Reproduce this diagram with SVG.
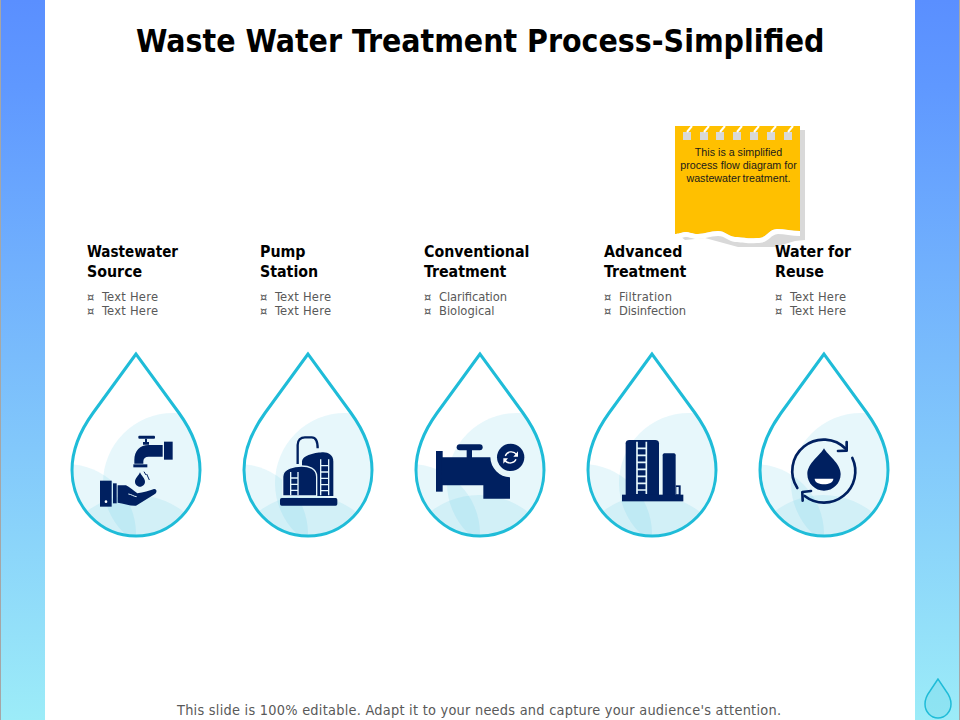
<svg xmlns="http://www.w3.org/2000/svg" width="960" height="720" viewBox="0 0 960 720">
<style>
text{font-family:"DejaVu Sans",sans-serif;font-stretch:condensed}
.title{font-size:31.7px;font-weight:bold;fill:#000}
.head{font-size:15.8px;font-weight:bold;fill:#000}
.item{font-size:12.8px;fill:#595959}
.foot{font-size:14.4px;fill:#595959}
text.note{font-family:"Liberation Sans",Arial,sans-serif;font-stretch:normal;font-size:10.7px;fill:#1a1a1a;text-anchor:middle}
.ic{fill:#002060}
.wh{fill:#fff}
.line{fill:none;stroke:#002060}
.dropline{fill:none;stroke:#1fbcd8;stroke-width:3}
.tint{fill:#49c3e0;fill-opacity:.13}
</style>
<defs>
<linearGradient id="bar" x1="0" y1="0" x2="0" y2="1">
<stop offset="0" stop-color="#5a8fff"/><stop offset=".12" stop-color="#5f98ff"/><stop offset="1" stop-color="#9cecf8"/>
</linearGradient>
<path id="dropShape" d="M0 -118L-43 -59C-56 -41 -64 -22 -64 -2C-64 34 -36 64 0 64C36 64 64 34 64 -2C64 -22 56 -41 43 -59Z"/>
<clipPath id="dropClip"><use href="#dropShape"/></clipPath>
<g id="drop">
<g clip-path="url(#dropClip)">
<circle class="tint" cx="37" cy="11" r="70"/>
<circle class="tint" cx="-70" cy="62" r="70"/>
<circle class="tint" cx="-1" cy="102" r="79"/>
</g>
<use href="#dropShape" class="dropline"/>
</g>
</defs>
<rect width="960" height="720" fill="#fff"/>
<rect id="barL" x="0" y="0" width="45" height="720" fill="url(#bar)"/>
<rect id="barR" x="915" y="0" width="45" height="720" fill="url(#bar)"/>
<rect x="0" y="0" width="1" height="720" fill="#a6a6a6"/>
<rect x="959" y="0" width="1" height="720" fill="#a6a6a6"/>
<text class="title" x="136" y="52">Waste Water Treatment Process-Simplified</text>

<g id="cornerDrop" transform="translate(938 702)">
<path d="M0 -23L-8 -11C-11 -7 -13 -3 -13 2C-13 10 -7 16 0 16C7 16 13 10 13 2C13 -3 11 -7 8 -11Z" fill="#7fdcec" fill-opacity=".45" stroke="#1fbcd8" stroke-width="1.500"/>
</g>

<g id="note">
<path d="M680 130H805V240L795 241L775 247L738 247L705 238L685 240L680 236Z" fill="#d9d9d9"/>
<path d="M675 126H800V231C792 231 784 229 777 229C767 230 768 238 757 238C745 239 742 237 735 237C728 236 725 231 718 231C710 231 705 234 698 234C692 234 690 232 685 232C680 233 678 234 675 234Z" fill="#ffc000"/>
<path d="M675 234C678 234 680 233 685 232C690 232 692 234 698 234C705 234 710 231 718 231C725 231 728 236 735 237C742 237 745 239 757 238C768 238 767 230 777 229C784 229 792 231 800 231V236C792 236 784 234 778 234C769 235 770 243 757 243C745 244 742 242 735 242C728 241 725 236 718 236C710 236 705 239 698 239C692 239 690 237 685 237C680 238 678 240 675 240Z" fill="#fff"/>
<g fill="#d9d9d9">
<rect x="683" y="132" width="8" height="8"/><rect x="700" y="132" width="8" height="8"/><rect x="716" y="132" width="8" height="8"/><rect x="733" y="132" width="8" height="8"/><rect x="750" y="132" width="8" height="8"/><rect x="767" y="132" width="8" height="8"/><rect x="784" y="132" width="8" height="8"/>
</g>
<g stroke="#fff" stroke-width="2" fill="none">
<path d="M687 132L692 126M704 132L709 126M720 132L725 126M737 132L742 126M754 132L759 126M771 132L776 126M788 132L793 126"/>
</g>
<text class="note" x="738.500" y="156">This is a simplified</text>
<text class="note" x="738.500" y="169">process flow diagram for</text>
<text class="note" x="738.500" y="182" word-spacing="-1">wastewater treatment.</text>
</g>

<g id="node1">
<use href="#drop" x="136" y="472"/>
<text class="head" x="87" y="257" textLength="91" lengthAdjust="spacingAndGlyphs">Wastewater</text><text class="head" x="87" y="277">Source</text>
<text class="item" x="87" y="301">¤</text><text class="item" x="102" y="301" textLength="56">Text Here</text>
<text class="item" x="87" y="315">¤</text><text class="item" x="102" y="315" textLength="56">Text Here</text>
<g transform="translate(60 340) scale(.33333)">
<rect class="ic" x="235" y="287" width="50" height="9" rx="3"/>
<path class="ic" d="M255 296h6v10h6v8h-18v-8h6Z"/>
<rect class="ic" x="312" y="305" width="26" height="54"/>
<path class="ic" d="M308 315V350H266C256 350 250 355 250 364V371H223V360C223 332 240 315 266 315Z"/>
<rect class="ic" x="220" y="373" width="42" height="9"/>
<path class="ic" d="M240 397C236 407 225 415 225 425C225 433 232 440 240 440C248 440 255 433 255 425C255 415 244 407 240 397Z"/>
<path class="line" stroke-width="3" d="M252 395L258 405M260 402L268 420"/>
<rect class="ic" x="120" y="422" width="35" height="78"/>
<circle class="wh" cx="138" cy="485" r="4"/>
<rect class="ic" x="159" y="430" width="11" height="60"/>
<path class="ic" d="M173 436H198C208 440 220 452 232 460C250 458 268 452 282 447C290 446 292 456 286 461L228 497C210 498 190 490 173 488Z"/>
<path d="M205 462C215 463 222 470 230 470" fill="none" stroke="#e5f7fc" stroke-width="3"/>
</g>
</g>

<g id="node2">
<use href="#drop" x="308" y="472"/>
<text class="head" x="260" y="257">Pump</text><text class="head" x="260" y="277">Station</text>
<text class="item" x="260" y="301">¤</text><text class="item" x="275" y="301" textLength="56">Text Here</text>
<text class="item" x="260" y="315">¤</text><text class="item" x="275" y="315" textLength="56">Text Here</text>
<g transform="translate(60 340) scale(.33333)">
<path class="line" stroke-width="7" d="M713 372V315C713 300 722 292 735 292H755C768 292 773 302 773 325"/>
<path class="ic" d="M726 365C726 345 770 337 790 337C805 337 820 345 820 365V468H726Z"/>
<path class="ic" stroke="#e5f7fc" stroke-width="4" d="M668 410C668 385 705 378 725 378C745 378 770 385 770 410V468H668Z"/>
<rect class="ic" x="660" y="474" width="172" height="23" rx="5"/>
<path d="M692 396V466M714 396V466M692 414H714M692 433H714M692 451H714" fill="none" stroke="#e5f7fc" stroke-width="4"/>
<path d="M782 358V466M806 358V466M782 377H806M782 396H806M782 415H806M782 434H806M782 452H806" fill="none" stroke="#e5f7fc" stroke-width="4"/>
</g>
</g>

<g id="node3">
<use href="#drop" x="480" y="472"/>
<text class="head" x="424" y="257">Conventional</text><text class="head" x="424" y="277">Treatment</text>
<text class="item" x="424" y="301">¤</text><text class="item" x="439" y="301" textLength="68">Clarification</text>
<text class="item" x="424" y="315">¤</text><text class="item" x="439" y="315">Biological</text>
<g transform="translate(400 340) scale(.33333)">
<rect class="ic" x="108" y="333" width="20" height="122"/>
<rect class="ic" x="170" y="313" width="78" height="18" rx="9"/>
<rect class="ic" x="200" y="325" width="16" height="30"/>
<path class="ic" d="M126 352H271A62 62 0 0 0 330 412V476H250V436H126Z"/>
<circle class="ic" cx="332" cy="352" r="41"/>
<path d="M316 348C320 335 340 330 350 344M348 358C344 370 324 374 314 360" fill="none" stroke="#fff" stroke-width="4"/>
<path class="wh" d="M354 334V350H340ZM310 371V355H324Z"/>
</g>
</g>

<g id="node4">
<use href="#drop" x="652" y="472"/>
<text class="head" x="604" y="257">Advanced</text><text class="head" x="604" y="277">Treatment</text>
<text class="item" x="604" y="301">¤</text><text class="item" x="619" y="301" textLength="53">Filtration</text>
<text class="item" x="604" y="315">¤</text><text class="item" x="619" y="315" textLength="67">Disinfection</text>
<g transform="translate(400 340) scale(.33333)">
<path class="ic" d="M677 310C677 303 682 300 688 300H766C772 300 777 303 777 310V466H677Z"/>
<path class="ic" d="M788 346C788 342 791 340 795 340H820C824 340 827 342 827 346V466H788Z"/>
<path class="ic" d="M827 436H842V466H827Z"/>
<rect x="829" y="441" width="7" height="22" fill="#e5f7fc"/>
<rect class="ic" x="666" y="464" width="184" height="20"/>
<path d="M711 305V462M739 305V462M711 325H739M711 346H739M711 367H739M711 388H739M711 409H739M711 430H739M711 450H739" fill="none" stroke="#e5f7fc" stroke-width="5"/>
</g>
</g>

<g id="node5">
<use href="#drop" x="824" y="472"/>
<text class="head" x="775" y="257">Water for</text><text class="head" x="775" y="277">Reuse</text>
<text class="item" x="775" y="301">¤</text><text class="item" x="790" y="301" textLength="56">Text Here</text>
<text class="item" x="775" y="315">¤</text><text class="item" x="790" y="315" textLength="56">Text Here</text>
<g transform="translate(750 400) scale(.33333)">
<path class="line" stroke-width="8" stroke-linecap="round" d="M288 147A94 94 0 0 0 142 264M164 288A94 94 0 0 0 307 174"/>
<path class="line" stroke-width="8" stroke-linecap="round" stroke-linejoin="round" d="M264 153L290 152L290 126M183 273L157 276L158 302"/>
<path class="ic" d="M222 145C212 165 172 190 172 222C172 250 195 272 222 272C249 272 272 250 272 222C272 190 232 165 222 145Z"/>
<path class="wh" d="M194 236H250C250 247 236 253 222 253C208 253 194 247 194 236Z"/>
</g>
</g>

<text class="foot" x="177" y="715" textLength="604">This slide is 100% editable. Adapt it to your needs and capture your audience's attention.</text>
</svg>
